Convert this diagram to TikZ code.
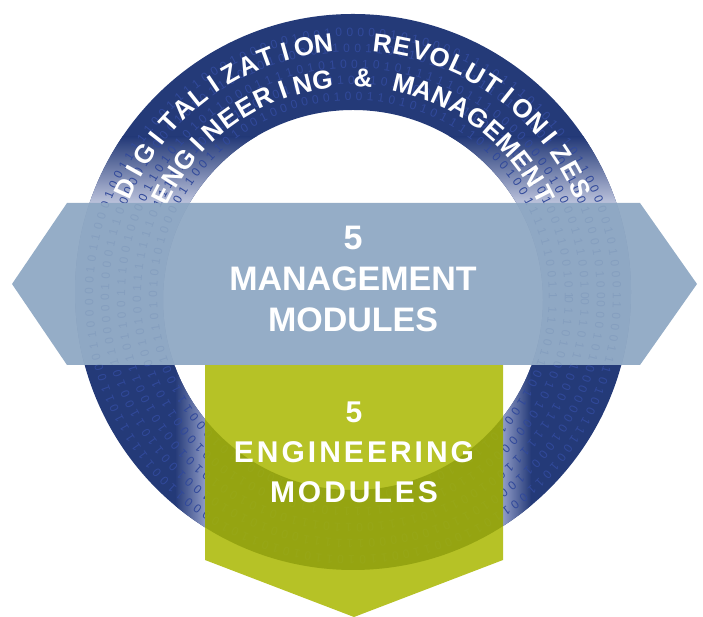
\documentclass[tikz,border=0pt]{standalone}
\usepackage{fontspec}
\setmainfont{Liberation Sans}

\definecolor{navy}{HTML}{243A78}
\definecolor{ringfade}{HTML}{BCC3DC}
\definecolor{glow}{HTML}{8E9AC6}
\definecolor{bitblue}{HTML}{31499A}
\definecolor{bandblue}{HTML}{8CA6C2}
\definecolor{lime}{HTML}{A9B700}

\newcommand\ringfont{\bfseries\fontsize{26}{26}\selectfont}
\newdimen\arcW \newdimen\chW \newcount\arcN
\newcommand\arctext[4]{%
  \global\arcW=0pt \global\arcN=0
  \foreach \ch in {#4}{\setbox0=\hbox{\ringfont\ch}%
    \global\advance\arcW by \wd0 \global\advance\arcN by 1 }%
  \pgfmathsetmacro\arcgap{((#2-#3)*pi/180*#1 - \arcW)/(\arcN-1)}%
  \gdef\arcpos{0}%
  \foreach \ch in {#4}{\setbox0=\hbox{\ringfont\ch}\chW=\wd0
    \pgfmathsetmacro\arcang{#2 - (\arcpos + 0.5*\chW)/#1*180/pi}%
    \path (c) ++(\arcang:#1) node[ringletter, rotate=\arcang-90] {\ch};
    \pgfmathsetmacro\arcnext{\arcpos + \chW + \arcgap}%
    \xdef\arcpos{\arcnext}}%
}

\begin{document}
\begin{tikzpicture}[x=1pt,y=1pt]

\tikzset{
    bit/.style={text=bitblue, inner sep=0pt, font=\fontsize{12}{12}\selectfont},
    ringletter/.style={text=white, inner sep=0pt, anchor=base, font=\ringfont},
    bandlabel/.style={text=white, align=center,
        font=\bfseries\fontsize{34}{41}\selectfont},
    englabel/.style={text=white, align=center,
        font=\bfseries\fontsize{30}{40}\selectfont\addfontfeature{LetterSpace=10}}
}

\useasboundingbox (0,0) rectangle (703,617);
\coordinate (c) at (353,325);
\pgfmathsetseed{17}

\begin{scope}[even odd rule]
  \clip (353,325) circle[radius=278] (353,317) circle[radius=190];
  \fill[navy] (0,0) rectangle (703,617);
  \shade[top color=navy, bottom color=ringfade] (0,414) rectangle (703,480);
  \fill[ringfade] (0,252) rectangle (703,414);
  \shade[left color=navy, right color=glow] (175,0) rectangle (205,252);
  \shade[left color=glow, right color=navy] (503,0) rectangle (531,252);
  \foreach \r in {200,216,232,248,264}{
    \pgfmathsetmacro\stp{11/\r*180/3.14159}
    \foreach \a in {0,\stp,...,359}{
      \pgfmathrandominteger{\b}{0}{1}
      \path (353,321) ++(\a:\r) node[bit, rotate=\a-90] {\b};
    }
  }
\end{scope}

\arctext{241}{155.5}{24.5}{D,I,G,I,T,A,L,I,Z,A,T,I,O,N,~,~,R,E,V,O,L,U,T,I,O,N,I,Z,E,S}
\arctext{205}{153}{27}{E,N,G,I,N,E,E,R,I,N,G,~,\&,~,M,A,N,A,G,E,M,E,N,T}

\fill[lime, opacity=0.85] (205,252) -- (503,252) -- (503,57) -- (354,0) -- (205,57) -- cycle;
\fill[bandblue, opacity=0.92] (12,333) -- (67,414) -- (640,414) -- (697,333) -- (640,252) -- (67,252) -- cycle;

\node[bandlabel] (mgt) at (353,338) {5\\MANAGEMENT\\MODULES};
\node[englabel] (eng) at (354,165) {5\\ENGINEERING\\MODULES};

\end{tikzpicture}
\end{document}
